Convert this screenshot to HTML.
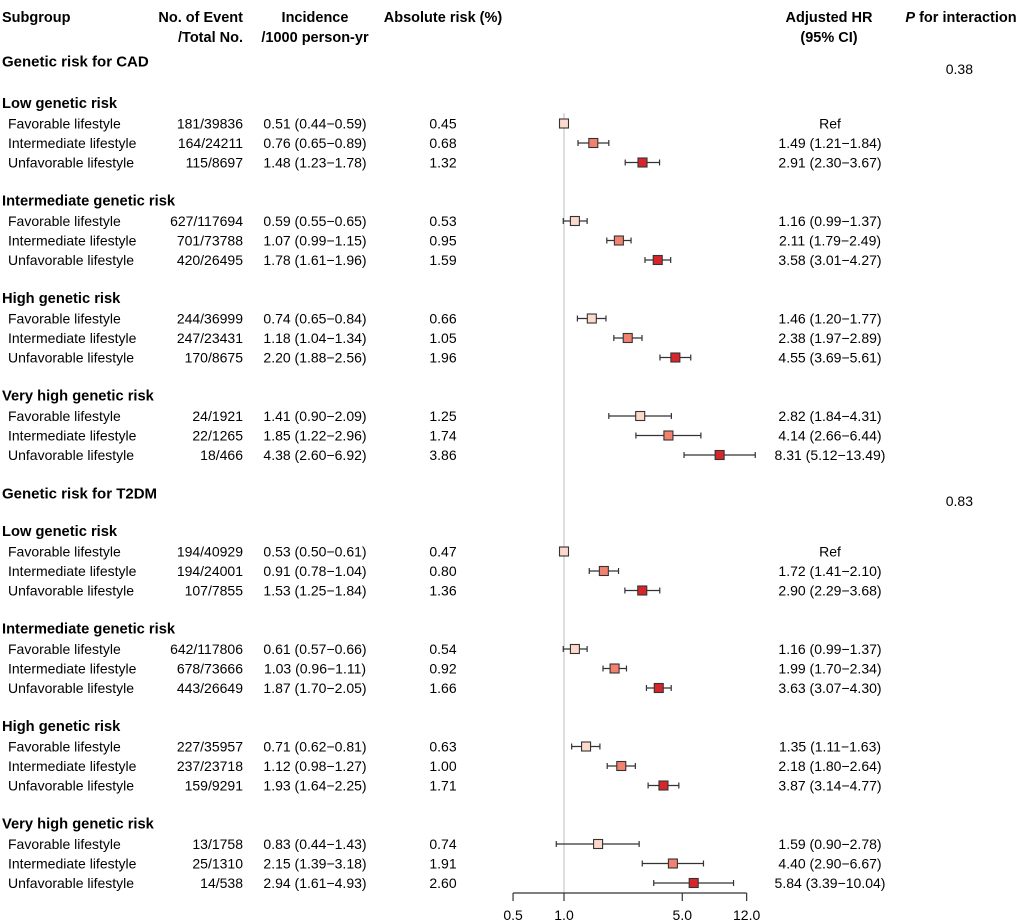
<!DOCTYPE html>
<html><head><meta charset="utf-8"><style>
body{margin:0;background:#fff}
svg{display:block;font-family:"Liberation Sans",Arial,sans-serif}
</style></head><body>
<svg id="c" width="1021" height="924"></svg>
<script>
const sections=["Genetic risk for CAD","Genetic risk for T2DM"];
const pInteraction=["0.38","0.83"];
const groups=["Low genetic risk","Intermediate genetic risk","High genetic risk","Very high genetic risk"];
const lifestyles=["Favorable lifestyle","Intermediate lifestyle","Unfavorable lifestyle"];
const events=[["181/39836","164/24211","115/8697","627/117694","701/73788","420/26495","244/36999","247/23431","170/8675","24/1921","22/1265","18/466"],
["194/40929","194/24001","107/7855","642/117806","678/73666","443/26649","227/35957","237/23718","159/9291","13/1758","25/1310","14/538"]];
const incidence=[["0.51 (0.44−0.59)","0.76 (0.65−0.89)","1.48 (1.23−1.78)","0.59 (0.55−0.65)","1.07 (0.99−1.15)","1.78 (1.61−1.96)","0.74 (0.65−0.84)","1.18 (1.04−1.34)","2.20 (1.88−2.56)","1.41 (0.90−2.09)","1.85 (1.22−2.96)","4.38 (2.60−6.92)"],
["0.53 (0.50−0.61)","0.91 (0.78−1.04)","1.53 (1.25−1.84)","0.61 (0.57−0.66)","1.03 (0.96−1.11)","1.87 (1.70−2.05)","0.71 (0.62−0.81)","1.12 (0.98−1.27)","1.93 (1.64−2.25)","0.83 (0.44−1.43)","2.15 (1.39−3.18)","2.94 (1.61−4.93)"]];
const absRisk=[["0.45","0.68","1.32","0.53","0.95","1.59","0.66","1.05","1.96","1.25","1.74","3.86"],
["0.47","0.80","1.36","0.54","0.92","1.66","0.63","1.00","1.71","0.74","1.91","2.60"]];
const hr=[[1,1.49,2.91,1.16,2.11,3.58,1.46,2.38,4.55,2.82,4.14,8.31],[1,1.72,2.90,1.16,1.99,3.63,1.35,2.18,3.87,1.59,4.40,5.84]];
const lo=[[null,1.21,2.30,0.99,1.79,3.01,1.20,1.97,3.69,1.84,2.66,5.12],[null,1.41,2.29,0.99,1.70,3.07,1.11,1.80,3.14,0.90,2.90,3.39]];
const hi=[[null,1.84,3.67,1.37,2.49,4.27,1.77,2.89,5.61,4.31,6.44,13.49],[null,2.10,3.68,1.37,2.34,4.30,1.63,2.64,4.77,2.78,6.67,10.04]];
const ticks=[0.5,1.0,5.0,12.0];
const tickLabels=["0.5","1.0","5.0","12.0"];
const colors=["#fdd8cc","#f2826f","#d7262b"];

const svg=document.getElementById('c');const NS="http://www.w3.org/2000/svg";
function x(v){return 564+73.5*Math.log(v);}
function el(t,a,txt){const e=document.createElementNS(NS,t);for(const k in a)e.setAttribute(k,a[k]);if(txt!=null)e.textContent=txt;svg.appendChild(e);return e;}
function txt(s,X,Y,anchor,bold,name,size){const e=el('text',{x:X,y:Y,'text-anchor':anchor||'start','font-size':size||14,'font-weight':bold?'bold':'normal',fill:'#000','dominant-baseline':'central'},s);

return e;}
txt("Subgroup",2,18,'start',1,'subgroup-header',14.5);
txt("No. of Event",243,18,'end',1,'events-header',14.5);
txt("/Total No.",243,38,'end',1,'events-header-2',14.5);
txt("Incidence",315,18,'middle',1,'incidence-header',14.5);
txt("/1000 person-yr",315,38,'middle',1,'incidence-header-2',14.5);
txt("Absolute risk (%)",443,18,'middle',1,'absolute-risk-header',14.5);
txt("Adjusted HR",829,18,'middle',1,'hr-header',14.5);
txt("(95% CI)",829,38,'middle',1,'hr-header-2',14.5);
const ph=txt("",961,18,'middle',1,'p-interaction-header',14.5);
const t1=document.createElementNS(NS,'tspan');t1.setAttribute('font-style','italic');t1.textContent="P";ph.appendChild(t1);
const t2=document.createElementNS(NS,'tspan');t2.textContent=" for interaction";ph.appendChild(t2);
const rl=el('line',{x1:x(1),x2:x(1),y1:113,y2:893,stroke:'#d4d4d4','stroke-width':1.5});


const secY=[62,494];
const grpStart=[104,532];
sections.forEach((s,si)=>{
  txt(s,2,secY[si],'start',1,'section-title',15);
  txt(pInteraction[si],973,secY[si]+7,'end',0,'p-interaction-value');
  groups.forEach((g,gi)=>{
    const gy=grpStart[si]+gi*97.5;
    txt(g,2,gy,'start',1,'group-header',14.7);
    lifestyles.forEach((l,li)=>{
      const i=gi*3+li;const y=gy+19.5*(li+1);
      txt(l,8,y,'start',0,'lifestyle-label');
      txt(events[si][i],243,y,'end',0,'events-value');
      txt(incidence[si][i],315,y,'middle',0,'incidence-value');
      txt(absRisk[si][i],443,y,'middle',0,'absolute-risk-value');
      const h=hr[si][i];
      txt(lo[si][i]==null?"Ref":h.toFixed(2)+" ("+lo[si][i].toFixed(2)+"−"+hi[si][i].toFixed(2)+")",830,y,'middle',0,'hr-value');
      if(lo[si][i]!=null){
        const a=x(lo[si][i]),b=x(hi[si][i]);
        const ci=el('path',{d:`M${a},${y}H${b}M${a},${y-3}V${y+3}M${b},${y-3}V${y+3}`,stroke:'#333','stroke-width':1.2,fill:'none'});
        
        
      }
      const r=el('rect',{x:x(h)-4.5,y:y-4.5,width:9,height:9,fill:colors[li],stroke:'#333','stroke-width':1.1});
      
      
    });
  });
});
const ax=el('line',{x1:x(ticks[0]),x2:x(ticks[ticks.length-1]),y1:893,y2:893,stroke:'#333','stroke-width':1.2});


ticks.forEach((t,i)=>{
  const tk=el('line',{x1:x(t),x2:x(t),y1:893,y2:901,stroke:'#333','stroke-width':1.2});
  
  
  txt(tickLabels[i],x(t),915,'middle',0,'x-tick-label');
});
</script>
</body></html>
